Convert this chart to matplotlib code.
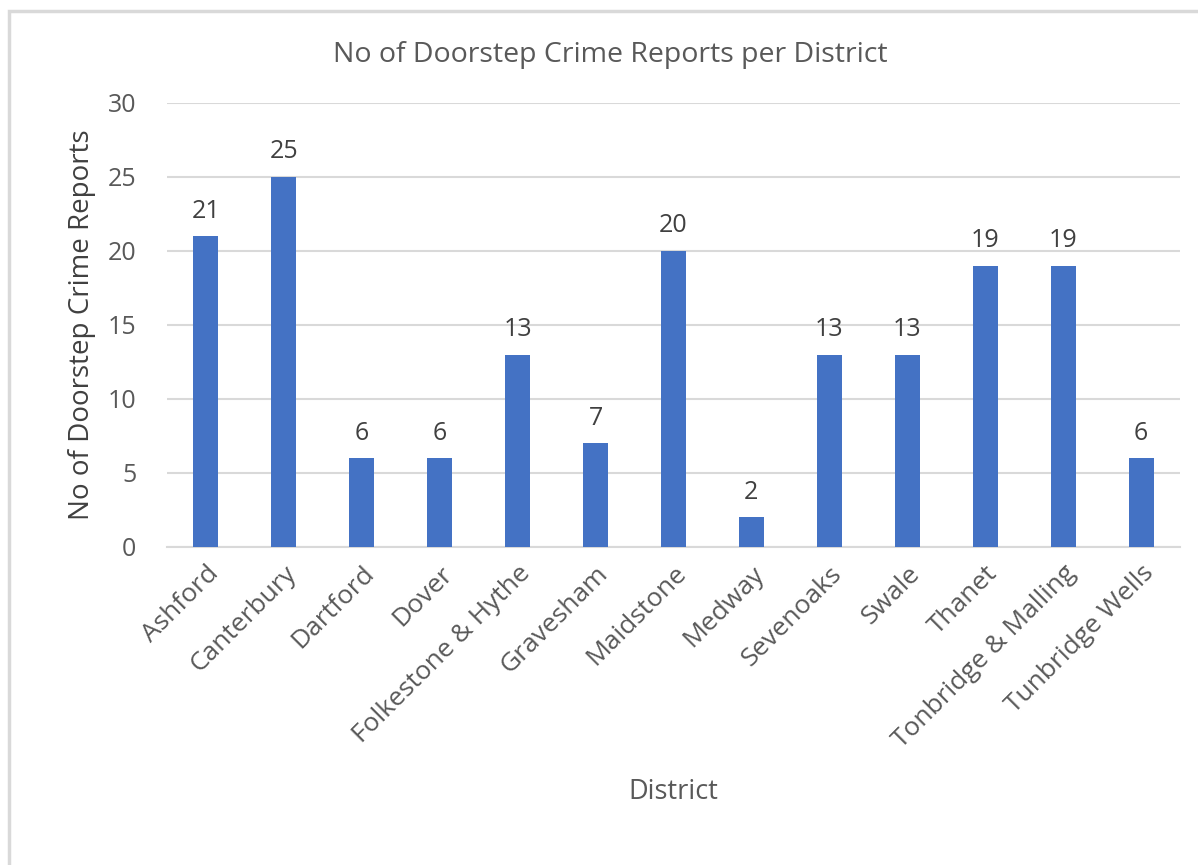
import matplotlib.pyplot as plt
from matplotlib.patches import Rectangle

districts = ['Ashford', 'Canterbury', 'Dartford', 'Dover', 'Folkestone & Hythe',
             'Gravesham', 'Maidstone', 'Medway', 'Sevenoaks', 'Swale', 'Thanet',
             'Tonbridge & Malling', 'Tunbridge Wells']
reports = [21, 25, 6, 6, 13, 7, 20, 2, 13, 13, 19, 19, 6]
yticks = [0, 5, 10, 15, 20, 25, 30]

plt.rcParams['font.family'] = ['Open Sans', 'DejaVu Sans']
text_col = '#595959'

fig = plt.figure(figsize=(11.98, 8.65), dpi=100)
ax = fig.add_axes([167 / 1198, 1 - 547 / 865, (1180 - 167) / 1198, (547 - 103) / 865])

# outer chart frame
fig.patches.append(Rectangle((9 / 1198, -0.05), 1.2, 1 - 11 / 865 + 0.05,
                             transform=fig.transFigure, fill=False,
                             edgecolor='#d9d9d9', linewidth=2.5))

x = range(len(districts))
bars = ax.bar(x, reports, width=0.32, color='#4472C4', zorder=3)
ax.bar_label(bars, padding=9, fontsize=18, color='#404040')

ax.set_xlim(-0.5, len(districts) - 0.5)
ax.set_ylim(0, 30)
ax.set_yticks(yticks)
ax.yaxis.grid(True, color='#d9d9d9', linewidth=1.5, zorder=0)
for s in ['top', 'right', 'left']:
    ax.spines[s].set_visible(False)
ax.spines['bottom'].set_color('#d9d9d9')
ax.spines['bottom'].set_linewidth(1.5)
ax.tick_params(length=0, labelsize=18, colors=text_col)
ax.tick_params(axis='y', pad=22)
ax.tick_params(axis='x', labelsize=19, pad=10)
ax.set_xticks(list(x))
ax.set_xticklabels(districts, rotation=45, ha='right', rotation_mode='anchor')

fig.text(610 / 1198, 1 - 55 / 865, 'No of Doorstep Crime Reports per District',
         fontsize=20.5, color=text_col, ha='center', va='center')
fig.text(82 / 1198, 1 - 325 / 865, 'No of Doorstep Crime Reports', fontsize=20,
         color='#404040', ha='center', va='center', rotation=90)
fig.text(673 / 1198, 1 - 792 / 865, 'District', fontsize=19.5, color=text_col,
         ha='center', va='center')

fig.savefig('out.png', dpi=100)
